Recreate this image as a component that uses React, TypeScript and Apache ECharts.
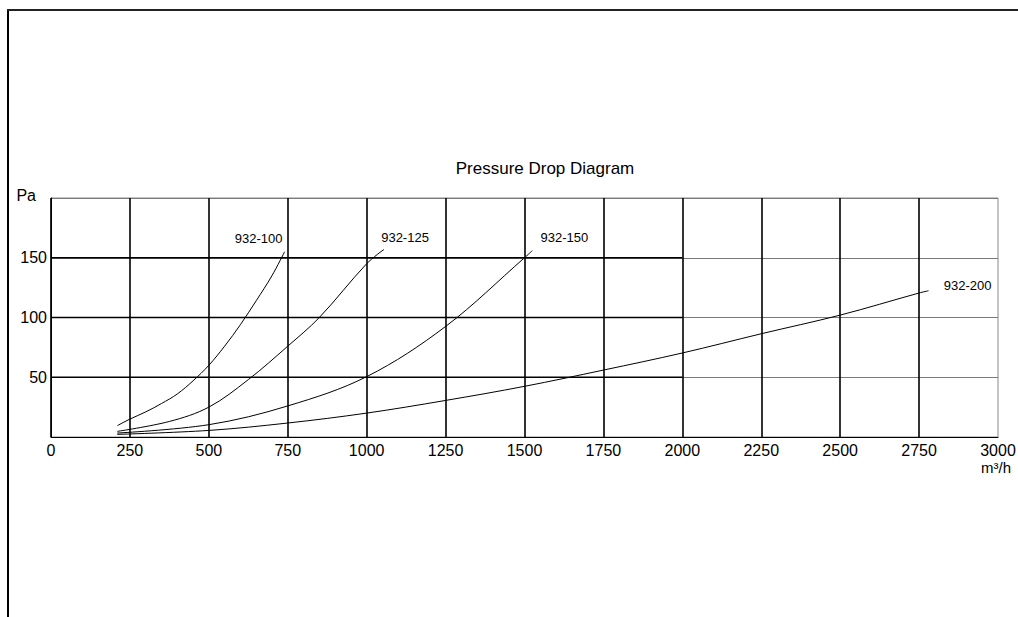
import React, { useEffect, useRef } from "react";
import * as echarts from "echarts";

const chartTitle = "Pressure Drop Diagram";
const yName = "Pa";
const xName = "m³/h";

const xMin = 0;
const xMax = 3000;
const xStep = 250;
const yMin = 0;
const yMax = 200;
const yStep = 50;

const seriesNames = ["932-100", "932-125", "932-150", "932-200"];

const flow100 = [210, 250, 300, 350, 400, 450, 500, 550, 600, 650, 700, 740];
const drop100 = [9.5, 15, 21, 28, 36, 47, 60, 76, 94, 114, 135, 155];

const flow125 = [210, 375, 500, 625, 750, 850, 1000, 1055];
const drop125 = [4.7, 13, 25, 48, 76, 100, 145, 157];

const flow150 = [210, 500, 750, 1000, 1250, 1500, 1525];
const drop150 = [3.3, 10.3, 26, 50.5, 92.5, 150, 156];

const flow200 = [210, 500, 750, 1000, 1250, 1500, 1750, 2000, 2250, 2500, 2750, 2780];
const drop200 = [2.2, 5.5, 11.7, 20, 30.6, 42.4, 56, 70.3, 86.4, 102, 120.5, 122.4];

const flows = [flow100, flow125, flow150, flow200];
const drops = [drop100, drop125, drop150, drop200];

const darkGridLevels = [50, 100, 150];
const darkGridEnd = 2000;

const labelOffsets: [number, number][] = [
  [-26, -13],
  [21, -12],
  [32, -13],
  [39, -5],
];

const FONT = "'Liberation Sans', Arial, sans-serif";

export default function App() {
  const ref = useRef<HTMLDivElement>(null);

  useEffect(() => {
    if (!ref.current) return;
    const chart = echarts.init(ref.current, undefined, { renderer: "svg" });

    const curveSeries = seriesNames.map((name, i) => ({
      name,
      type: "line",
      data: flows[i].map((f, j) => [f, drops[i][j]]),
      smooth: 0.35,
      showSymbol: false,
      symbol: "none",
      lineStyle: { color: "#000", width: 1 },
      z: 5,
      silent: true,
      endLabel: {
        show: true,
        formatter: "{a}",
        align: "center",
        verticalAlign: "middle",
        distance: 0,
        offset: labelOffsets[i],
        fontFamily: FONT,
        fontSize: 13,
        color: "#000",
      },
    }));

    const gridSeries = darkGridLevels.map((v) => ({
      name: "grid-" + v,
      type: "line",
      data: [
        [xMin, v],
        [darkGridEnd, v],
      ],
      showSymbol: false,
      symbol: "none",
      lineStyle: { color: "#000", width: 1.6 },
      z: 1,
      silent: true,
    }));

    chart.setOption({
      animation: false,
      backgroundColor: "#fff",
      title: {
        text: chartTitle,
        left: 545,
        top: 160,
        padding: 0,
        textAlign: "center",
        textStyle: { fontFamily: FONT, fontSize: 17, fontWeight: "normal", color: "#000" },
      },
      grid: {
        left: 51,
        top: 198,
        width: 947,
        height: 239,
        show: true,
        borderColor: "#8a8a8a",
        borderWidth: 1,
        containLabel: false,
        outerBoundsMode: "none",
      },
      xAxis: {
        type: "value",
        min: xMin,
        max: xMax,
        interval: xStep,
        name: xName,
        nameLocation: "end",
        nameGap: -17,
        nameMoveOverlap: false,
        nameTextStyle: {
          fontFamily: FONT,
          fontSize: 15,
          color: "#000",
          verticalAlign: "top",
          padding: [23, 0, 0, 0],
        },
        axisLine: { show: true, lineStyle: { color: "#000", width: 1 } },
        axisTick: { show: false },
        axisLabel: {
          fontFamily: FONT,
          fontSize: 16,
          color: "#000",
          margin: 5,
          formatter: (v: number) => String(v),
        },
        splitLine: { show: true, showMaxLine: false, lineStyle: { color: "#000", width: 1.6 } },
      },
      yAxis: {
        type: "value",
        min: yMin,
        max: yMax,
        interval: yStep,
        name: yName,
        nameLocation: "end",
        nameGap: 3,
        nameTextStyle: {
          fontFamily: FONT,
          fontSize: 16,
          color: "#000",
          align: "right",
          verticalAlign: "middle",
          padding: [0, 15, 0, 0],
        },
        axisLine: { show: true, lineStyle: { color: "#000", width: 1 } },
        axisTick: { show: false },
        axisLabel: {
          fontFamily: FONT,
          fontSize: 16,
          color: "#000",
          margin: 4,
          formatter: (v: number) => (v === yMin || v === yMax ? "" : String(v)),
        },
        splitLine: { show: true, lineStyle: { color: "#7a7a7a", width: 1 } },
      },
      graphic: [
        {
          type: "line",
          shape: { x1: 8, y1: 9, x2: 8, y2: 617 },
          style: { stroke: "#000", lineWidth: 2 },
        },
        {
          type: "line",
          shape: { x1: 7, y1: 10, x2: 1018, y2: 10 },
          style: { stroke: "#222", lineWidth: 2 },
        },
      ],
      series: [...gridSeries, ...curveSeries],
    });

    return () => chart.dispose();
  }, []);

  return (
    <div
      ref={ref}
      style={{ position: "absolute", left: 0, top: 0, width: 1018, height: 617 }}
    />
  );
}
